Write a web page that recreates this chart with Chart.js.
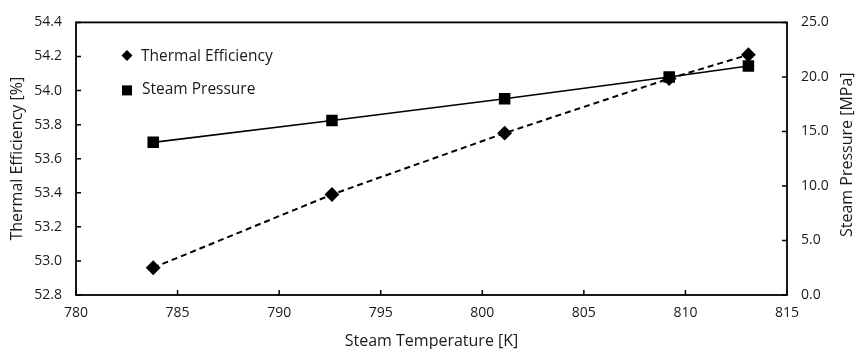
<!DOCTYPE html>
<html>
<head>
<meta charset="utf-8">
<script src="https://cdn.jsdelivr.net/npm/chart.js@4/dist/chart.umd.min.js"></script>
<style>
  html, body { margin: 0; padding: 0; background: #fff; }
  #wrap { width: 856px; height: 349px; position: relative; }
</style>
</head>
<body>
<div id="wrap"><canvas id="myChart"></canvas></div>
<script>
const ctx = document.getElementById('myChart');

const steamTemperature = [783.8, 792.6, 801.1, 809.2, 813.1]
const thermalEfficiency = [52.96, 53.39, 53.75, 54.07, 54.21]
const steamPressure = [14.0, 16.0, 18.0, 20.0, 21.0]
const seriesNames = ['Thermal Efficiency', 'Steam Pressure']
const xTicks = [780, 785, 790, 795, 800, 805, 810, 815]
const leftTicks = [52.8, 53.0, 53.2, 53.4, 53.6, 53.8, 54.0, 54.2, 54.4]
const rightTicks = [0, 5, 10, 15, 20, 25]
const rightTitle = 'Steam Pressure [MPa]'

const fontName = "'Open Sans', sans-serif"
const textColor = '#1a1a1a'

function toPoints(xs, ys) {
  return xs.map((x, i) => ({ x: x, y: ys[i] }))
}

// box round the plot, inward tick marks, right title and the legend inside the plot
const frameAndLegend = {
  id: 'frameAndLegend',
  afterDraw(chart) {
    const c = chart.ctx
    const area = chart.chartArea
    const sx = chart.scales.x
    const sl = chart.scales.yLeft
    const sr = chart.scales.yRight
    c.save()
    c.strokeStyle = '#000'
    c.lineWidth = 1.8
    c.strokeRect(area.left, area.top, area.right - area.left, area.bottom - area.top)

    c.lineWidth = 1.5
    c.beginPath()
    xTicks.forEach(v => {
      const px = sx.getPixelForValue(v)
      c.moveTo(px, area.bottom)
      c.lineTo(px, area.bottom - 5)
    })
    leftTicks.forEach(v => {
      const py = sl.getPixelForValue(v)
      c.moveTo(area.left, py)
      c.lineTo(area.left + 5, py)
    })
    rightTicks.forEach(v => {
      const py = sr.getPixelForValue(v)
      c.moveTo(area.right, py)
      c.lineTo(area.right - 5, py)
    })
    c.stroke()

    // right axis title, read bottom to top like the left one
    c.save()
    c.translate(sr.right - 9, (area.top + area.bottom) / 2 - 4)
    c.rotate(-Math.PI / 2)
    c.fillStyle = textColor
    c.font = '16px ' + fontName
    c.textAlign = 'center'
    c.textBaseline = 'middle'
    c.fillText(rightTitle, 0, 0)
    c.restore()

    // legend
    const lx = area.left + 51
    const ly1 = area.top + 33
    const ly2 = area.top + 68
    c.fillStyle = '#000'
    c.beginPath()
    c.moveTo(lx, ly1 - 5.5)
    c.lineTo(lx + 5.5, ly1)
    c.lineTo(lx, ly1 + 5.5)
    c.lineTo(lx - 5.5, ly1)
    c.closePath()
    c.fill()
    c.fillRect(lx - 5, ly2 - 5, 10, 10)

    c.fillStyle = textColor
    c.font = '15.5px ' + fontName
    c.textBaseline = 'middle'
    c.textAlign = 'left'
    c.fillText(seriesNames[0], lx + 14, ly1 + 1)
    c.fillText(seriesNames[1], lx + 15, ly2 - 1)
    c.restore()
  }
}

function showFinalChart() {
  new Chart(ctx, {
    type: 'scatter',
    data: {
      datasets: [{
        label: seriesNames[0],
        data: toPoints(steamTemperature, thermalEfficiency),
        yAxisID: 'yLeft',
        showLine: true,
        borderColor: '#000',
        backgroundColor: '#000',
        borderWidth: 2,
        borderDash: [6, 4],
        pointStyle: 'rectRot',
        pointRadius: 6,
        pointHoverRadius: 6,
        order: 1
      }, {
        label: seriesNames[1],
        data: toPoints(steamTemperature, steamPressure),
        yAxisID: 'yRight',
        showLine: true,
        borderColor: '#000',
        backgroundColor: '#000',
        borderWidth: 1.6,
        pointStyle: 'rect',
        pointRadius: 7,
        pointHoverRadius: 7,
        order: 2
      }]
    },
    options: {
      responsive: true,
      maintainAspectRatio: false,
      animation: false,
      layout: {
        padding: { top: 19, left: 0, right: 0, bottom: 0 }
      },
      plugins: {
        legend: false,
        tooltip: { enabled: false }
      },
      scales: {
        x: {
          type: 'linear',
          min: 780,
          max: 815,
          afterBuildTicks: axis => { axis.ticks = xTicks.map(v => ({ value: v })) },
          afterFit: axis => { axis.height = 54 },
          grid: { display: false, drawTicks: false },
          border: { display: false },
          ticks: {
            padding: 10,
            color: textColor,
            font: { family: fontName, size: 14 }
          },
          title: {
            display: true,
            text: 'Steam Temperature [K]',
            color: textColor,
            font: { family: fontName, size: 16, lineHeight: 1.0 },
            padding: { top: 4, bottom: 0 }
          }
        },
        yLeft: {
          type: 'linear',
          position: 'left',
          min: 52.8,
          max: 54.4,
          afterBuildTicks: axis => { axis.ticks = leftTicks.map(v => ({ value: v })) },
          afterFit: axis => { axis.width = 76 },
          grid: { display: false, drawTicks: false },
          border: { display: false },
          ticks: {
            padding: 14,
            color: textColor,
            font: { family: fontName, size: 14 },
            callback: v => v.toFixed(1)
          },
          title: {
            display: true,
            text: 'Thermal Efficiency [%]',
            color: textColor,
            font: { family: fontName, size: 16 },
            padding: { top: 7.5, bottom: 0 }
          }
        },
        yRight: {
          type: 'linear',
          position: 'right',
          min: 0,
          max: 25,
          afterBuildTicks: axis => { axis.ticks = rightTicks.map(v => ({ value: v })) },
          afterFit: axis => { axis.width = 69 },
          grid: { display: false, drawTicks: false },
          border: { display: false },
          ticks: {
            padding: 14,
            color: textColor,
            font: { family: fontName, size: 14 },
            callback: v => v.toFixed(1)
          },
          title: { display: false }
        }
      }
    },
    plugins: [frameAndLegend]
  });
}

window.addEventListener('load', () => {
  showFinalChart()
})
</script>
</body>
</html>
